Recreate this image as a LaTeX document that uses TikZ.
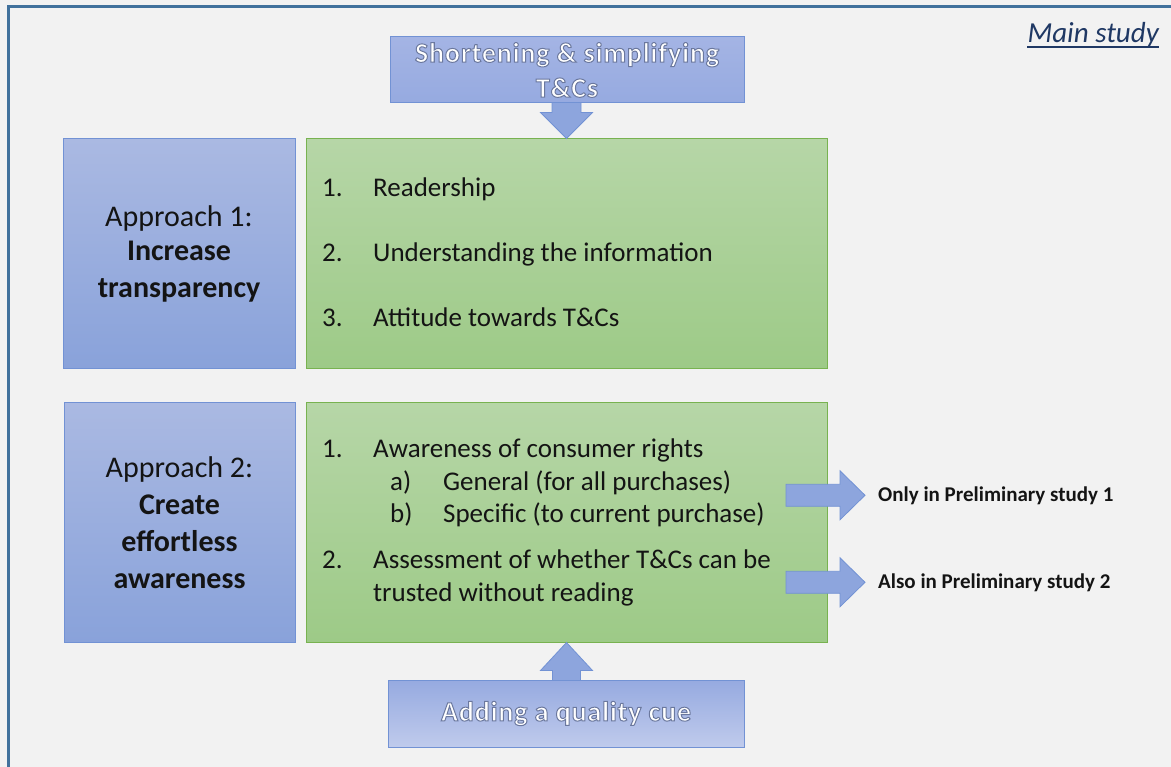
\documentclass[tikz,border=0pt]{standalone}
\usepackage{fontspec}
\setmainfont{Carlito}
\usetikzlibrary{calc}

\definecolor{bgc}{RGB}{242,242,242}
\definecolor{framec}{RGB}{65,113,156}
\definecolor{bluetop}{RGB}{170,185,226}
\definecolor{bluebot}{RGB}{137,162,218}
\definecolor{blueline}{RGB}{114,146,212}
\definecolor{cuea}{RGB}{164,180,228}
\definecolor{cueb}{RGB}{150,170,224}
\definecolor{greentop}{RGB}{182,214,167}
\definecolor{greenbot}{RGB}{157,202,135}
\definecolor{greenline}{RGB}{120,178,80}
\definecolor{arrowc}{RGB}{141,165,221}
\definecolor{titlec}{RGB}{31,56,100}
\definecolor{txtc}{RGB}{20,20,20}

% white letters with a thin grey-blue outline (text render mode 2)
\newcommand{\glowtext}[1]{{\color{white}%
  \special{pdf:code q 2 Tr 1.0 w 0.42 0.47 0.62 RG}#1\special{pdf:code Q}}}

\tikzset{
  approach/.style={draw=blueline, line width=1pt, top color=bluetop, bottom color=bluebot,
    inner sep=0pt, align=center, text=txtc, font=\fontsize{30}{37}\selectfont},
  aspects/.style={draw=greenline, line width=1pt, top color=greentop, bottom color=greenbot,
    inner sep=0pt},
  cuebox/.style={draw=blueline, line width=1pt, inner sep=0pt, align=center,
    font=\fontsize{28}{35}\selectfont\bfseries\addfontfeatures{LetterSpace=3}},
  blockarrow/.style={fill=arrowc, draw=blueline, line width=0.8pt, line join=miter},
  item/.style={anchor=base west, inner sep=0pt, text=txtc, font=\fontsize{27}{33}\selectfont},
  studylabel/.style={anchor=base west, inner sep=0pt, text=txtc, font=\fontsize{21}{25}\selectfont\bfseries}
}

\begin{document}
\begin{tikzpicture}[x=1pt,y=-1pt]
  \useasboundingbox (0,0) rectangle (1171,767);
  \fill[bgc] (0,0) rectangle (1171,767);
  \draw[framec, line width=3pt] (8.5,767) -- (8.5,6.5) -- (1171,6.5);

  \node[anchor=base east, inner sep=0pt, text=titlec,
        font=\fontsize{29}{35}\selectfont\itshape] (main) at (1159,43) {Main study};
  \draw[titlec, line width=1.5pt] ($(main.base west)+(0,4)$) -- ($(main.base east)+(0,4)$);

  % Approach boxes
  \node[approach, minimum width=232pt, minimum height=230pt] (app1) at (179,254)
    {\raisebox{-3pt}{Approach 1:}\\\textbf{Increase}\\\textbf{transparency}};
  \node[approach, minimum width=231pt, minimum height=239pt] (app2) at (179.5,522.5)
    {Approach 2:\\\textbf{Create}\\\textbf{effortless}\\\textbf{awareness}};

  \node[aspects, minimum width=521pt, minimum height=230pt] (asp1) at (566.5,254) {};
  \node[aspects, minimum width=521pt, minimum height=239pt] (asp2) at (566.5,522.5) {};

  % arrows from the two cue boxes
  \draw[blockarrow] (asp1.north) -- ++(26,-26) -- ++(-11.5,0) -- ++(0,-40) -- ++(-29,0)
    -- ++(0,40) -- ++(-11.5,0) -- cycle;
  \draw[blockarrow] (asp2.south) -- ++(26,28) -- ++(-12,0) -- ++(0,40) -- ++(-28,0)
    -- ++(0,-40) -- ++(-12,0) -- cycle;

  \node[cuebox, top color=cuea, bottom color=cueb, minimum width=354pt, minimum height=66pt] (short)
    at (567,70) {\glowtext{Shortening \& simplifying}\\\glowtext{T\&Cs}};
  \node[cuebox, top color=cueb, bottom color=cuea!70!white, minimum width=356pt, minimum height=67pt] (quality)
    at (566,713.5) {\glowtext{Adding a quality cue}};

  % first list
  \node[item] (read) at (322,197) {\makebox[51pt][l]{1.}Readership};
  \node[item] (underst) at (322,262) {\makebox[51pt][l]{2.}Understanding the information};
  \node[item] (attit) at (322,327) {\makebox[51pt][l]{3.}Attitude towards T\&Cs};

  % second list
  \node[item] (aware) at (322,457) {\makebox[51pt][l]{1.}Awareness of consumer rights};
  \node[item] (general) at (390,490) {\makebox[53pt][l]{a)}General (for all purchases)};
  \node[item] (specific) at (390,522) {\makebox[53pt][l]{b)}Specific (to current purchase)};
  \node[item] (assess) at (322,568) {\makebox[51pt][l]{2.}Assessment of whether T\&Cs can be};
  \node[item] (trusted) at (373,601) {trusted without reading};

  \node[studylabel] (only1) at (878,501) {Only in Preliminary study 1};
  \node[studylabel] (also2) at (878,588) {Also in Preliminary study 2};

  \draw[blockarrow] ($(only1.west)+(-13,0)$) -- ++(-25,-24.5) -- ++(0,13.5) -- ++(-54,0)
    -- ++(0,22) -- ++(54,0) -- ++(0,13.5) -- cycle;
  \draw[blockarrow] ($(also2.west)+(-13,0)$) -- ++(-25,-24.5) -- ++(0,13.5) -- ++(-54,0)
    -- ++(0,22) -- ++(54,0) -- ++(0,13.5) -- cycle;
\end{tikzpicture}
\end{document}
